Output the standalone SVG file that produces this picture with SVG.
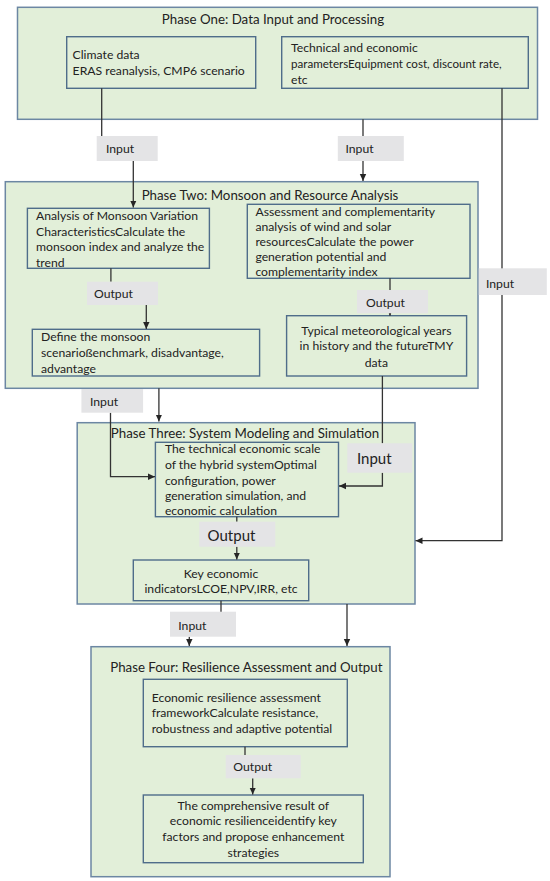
<svg xmlns="http://www.w3.org/2000/svg" width="550" height="881" viewBox="0 0 550 881">
<defs>
<marker id="ah" markerWidth="8" markerHeight="8" refX="7" refY="4" orient="auto" markerUnits="userSpaceOnUse">
<path d="M0,0.8 L7,4 L0,7.2 Z" fill="#262626"/>
</marker>
<style>
.phase{fill:#e2efd9;stroke:#6c87a3;stroke-width:1.5}
.box{fill:#e2efd9;stroke:#4f6d8a;stroke-width:1.4}
.lbl{fill:#e4e4e6}
.ln{fill:none;stroke:#333;stroke-width:1.3}
.ar{fill:none;stroke:#333;stroke-width:1.3;marker-end:url(#ah)}
text{font-family:Lato,"Liberation Sans",sans-serif;font-size:12.2px;fill:#222}
.t{font-size:13.3px}
.big{font-size:15px}
.c{text-anchor:middle}
</style>
</defs>
<rect width="550" height="881" fill="#fff"/>

<g id="phase1">
<rect class="phase" x="17.5" y="7.3" width="520" height="112"/>
<text class="t c" x="273" y="23.5">Phase One: Data Input and Processing</text>
</g>
<g id="climate">
<rect class="box" x="66.7" y="36.7" width="189" height="51.6"/>
<text x="72.6" y="59">Climate data</text>
<text x="72.6" y="75">ERAS reanalysis, CMP6 scenario</text>
</g>
<g id="techparams">
<rect class="box" x="281.7" y="36.7" width="246.6" height="51.6"/>
<text x="291" y="52">Technical and economic</text>
<text x="291" y="68" style="font-size:11.6px">parametersEquipment cost, discount rate,</text>
<text x="291" y="84">etc</text>
</g>

<g id="phase2">
<rect class="phase" x="5.3" y="181.7" width="472.7" height="206.6"/>
<text class="t c" x="270" y="200">Phase Two: Monsoon and Resource Analysis</text>
</g>
<g id="monsoon">
<rect class="box" x="27.4" y="208.3" width="182" height="60"/>
<text x="36" y="220">Analysis of Monsoon Variation</text>
<text x="36" y="235.5">CharacteristicsCalculate the</text>
<text x="36" y="251">monsoon index and analyze the</text>
<text x="36" y="266.5">trend</text>
</g>
<g id="windsolar">
<rect class="box" x="247.3" y="204.3" width="222.7" height="74"/>
<text x="255.4" y="216">Assessment and complementarity</text>
<text x="255.4" y="231">analysis of wind and solar</text>
<text x="255.4" y="246">resourcesCalculate the power</text>
<text x="255.4" y="261">generation potential and</text>
<text x="255.4" y="276">complementarity index</text>
</g>
<g id="scenario">
<rect class="box" x="32.3" y="329.3" width="227.3" height="46.7"/>
<text x="41" y="341">Define the monsoon</text>
<text x="41" y="357">scenarioßenchmark, disadvantage,</text>
<text x="41" y="373">advantage</text>
</g>
<g id="tmy">
<rect class="box" x="286.6" y="315.7" width="180" height="60.3"/>
<text class="c" x="376.4" y="334.5">Typical meteorological years</text>
<text class="c" x="376.4" y="350">in history and the futureTMY</text>
<text class="c" x="376.4" y="366.5">data</text>
</g>

<g id="phase3">
<rect class="phase" x="77.2" y="422.7" width="337.8" height="181.3"/>
<text class="t c" x="245" y="437.5">Phase Three: System Modeling and Simulation</text>
</g>
<g id="hybrid">
<rect class="box" x="155.4" y="442.3" width="183.1" height="74.4"/>
<text x="164.9" y="453">The technical economic scale</text>
<text x="164.9" y="468.5">of the hybrid systemOptimal</text>
<text x="164.9" y="484.5">configuration, power</text>
<text x="164.9" y="500">generation simulation, and</text>
<text x="164.9" y="515">economic calculation</text>
</g>
<g id="keyind">
<rect class="box" x="133.3" y="560" width="175.4" height="40.7"/>
<text class="c" x="221" y="578">Key economic</text>
<text class="c" x="221" y="593">indicatorsLCOE,NPV,IRR, etc</text>
</g>

<g id="phase4">
<rect class="phase" x="91" y="646.7" width="299" height="230"/>
<text class="t c" x="246.3" y="671.5">Phase Four: Resilience Assessment and Output</text>
</g>
<g id="framework">
<rect class="box" x="143.3" y="679.3" width="204" height="67.4"/>
<text x="151.7" y="702">Economic resilience assessment</text>
<text x="151.7" y="717">frameworkCalculate resistance,</text>
<text x="151.7" y="733">robustness and adaptive potential</text>
</g>
<g id="result">
<rect class="box" x="143.3" y="795" width="220" height="67.7"/>
<text class="c" x="253.3" y="809.5">The comprehensive result of</text>
<text class="c" x="253.3" y="825">economic resilienceidentify key</text>
<text class="c" x="253.3" y="841">factors and propose enhancement</text>
<text class="c" x="253.3" y="857">strategies</text>
</g>

<g id="connectors">
<path class="ln" d="M101.7,88.3 V136"/>
<path class="ar" d="M133.3,161 V207.5"/>
<path class="ln" d="M363,119.3 V136"/>
<path class="ar" d="M363,161 V181"/>
<path class="ar" d="M502,88.3 V540.7 H415.5"/>
<path class="ln" d="M110.9,268.3 V281.7"/>
<path class="ar" d="M146.3,305 V329"/>
<path class="ln" d="M390,278.3 V290"/>
<path class="ar" d="M390,308 V315.7"/>
<path class="ar" d="M158.9,388.3 V421.5"/>
<path class="ar" d="M110.5,412.7 V476.7 H155"/>
<path class="ln" d="M382.4,376 V443.3"/>
<path class="ar" d="M382.4,472.7 V486 H339"/>
<path class="ln" d="M236.8,516.7 V521.7"/>
<path class="ar" d="M236.8,546.7 V559.5"/>
<path class="ln" d="M221,600.7 V612"/>
<path class="ar" d="M189.3,636.7 V646"/>
<path class="ar" d="M347,604 V646"/>
<path class="ln" d="M245,746.7 V755"/>
<path class="ar" d="M252.7,778.3 V794.5"/>
</g>

<g id="labels">
<rect class="lbl" x="96.7" y="136" width="61" height="25"/>
<text x="106" y="153">Input</text>
<rect class="lbl" x="337.8" y="136" width="66" height="25"/>
<text x="345.5" y="153">Input</text>
<rect class="lbl" x="478.8" y="268.3" width="68" height="26.7"/>
<text x="486" y="287.5">Input</text>
<rect class="lbl" x="87" y="281.7" width="71" height="23.3"/>
<text x="94" y="298">Output</text>
<rect class="lbl" x="357" y="290" width="71" height="23.3"/>
<text x="366" y="306.5">Output</text>
<rect class="lbl" x="81.4" y="389" width="61.7" height="23.7"/>
<text x="90" y="405.5">Input</text>
<rect class="lbl" x="347.3" y="443.3" width="65" height="29.4"/>
<text class="big" x="357" y="464">Input</text>
<rect class="lbl" x="199.3" y="521.7" width="76" height="25"/>
<text class="big c" x="231.5" y="540.5">Output</text>
<rect class="lbl" x="170" y="611.7" width="66" height="25"/>
<text x="178.3" y="629.5">Input</text>
<rect class="lbl" x="225.7" y="755" width="75" height="23.3"/>
<text x="233.3" y="771">Output</text>
</g>
</svg>
